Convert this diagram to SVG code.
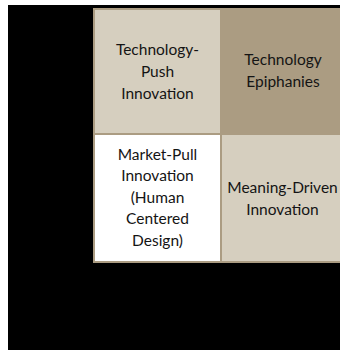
<svg xmlns="http://www.w3.org/2000/svg" width="340" height="350" viewBox="0 0 340 350">
<style>
.lbl{font-family:Lato,"Liberation Sans",sans-serif;font-size:15.5px;fill:#141414;text-anchor:middle}
.light{fill:#d6cfbf}
.dark{fill:#ab9c82}
.white{fill:#ffffff}
</style>
<rect x="0" y="0" width="340" height="350" fill="#ffffff"/>
<rect x="8" y="5" width="332" height="345" fill="#000000"/>
<rect x="93" y="8" width="260" height="255" fill="#ab9c82"/>
<g id="tech-push">
<rect class="light" x="95" y="10" width="125" height="123"/>
<text class="lbl" x="157.5" y="55">Technology-</text>
<text class="lbl" x="157.5" y="77">Push</text>
<text class="lbl" x="157.5" y="98.5">Innovation</text>
</g>
<g id="tech-epiphanies">
<rect class="dark" x="222" y="10" width="130" height="123"/>
<text class="lbl" x="283" y="65">Technology</text>
<text class="lbl" x="283" y="86.5">Epiphanies</text>
</g>
<g id="market-pull">
<rect class="white" x="95" y="135" width="125" height="126"/>
<text class="lbl" x="157.5" y="159.5">Market-Pull</text>
<text class="lbl" x="157.5" y="181">Innovation</text>
<text class="lbl" x="157.5" y="202.5">(Human</text>
<text class="lbl" x="157.5" y="224">Centered</text>
<text class="lbl" x="157.5" y="245.5">Design)</text>
</g>
<g id="meaning-driven">
<rect class="light" x="222" y="135" width="130" height="126"/>
<text class="lbl" x="282.5" y="193">Meaning-Driven</text>
<text class="lbl" x="282.5" y="214.5">Innovation</text>
</g>
<g id="connectors"/>
</svg>
